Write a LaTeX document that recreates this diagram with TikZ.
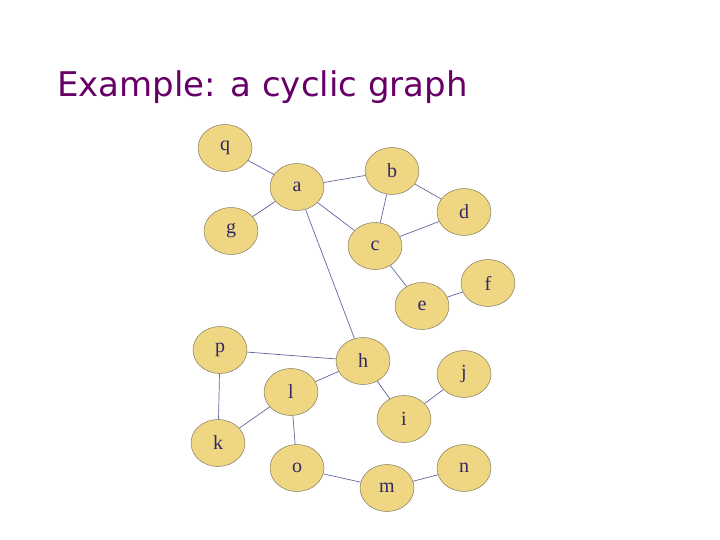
\documentclass[tikz,border=0pt]{standalone}
\usepackage{fontspec}
\setmainfont{Liberation Serif}
\newfontfamily\titlefont{DejaVu Sans}
\definecolor{nodefill}{RGB}{238,214,130}
\definecolor{nodeline}{RGB}{110,100,80}
\definecolor{edgecol}{RGB}{100,100,160}
\definecolor{labcol}{RGB}{50,40,100}
\definecolor{titlecol}{RGB}{102,0,102}
\begin{document}
\begin{tikzpicture}[x=1pt,y=-1pt,
  vert/.style={ellipse,draw=nodeline,fill=nodefill,minimum width=54pt,minimum height=47pt,inner sep=0pt,text=labcol,font=\fontsize{20}{22}\selectfont},
  edge/.style={draw=edgecol,line width=0.7pt}]
\usetikzlibrary{shapes.geometric}
\useasboundingbox (0,0) rectangle (720,540);
\node[anchor=base west,text=titlecol,font=\titlefont\fontsize{34}{40}\selectfont,inner sep=0pt] (title) at (57,97) {Example: a cyclic graph};
\foreach \n/\x/\y in {q/225/148,a/297/187,b/392/171,d/464/212,g/231/231,c/375/246,f/488/283,e/422/306,p/220/350,h/363/361,j/464/374,l/291/392,i/404/419,k/218/443,o/297/468,n/464/468,m/387/488}
  \node[vert] (\n) at (\x,\y) {\n};
\foreach \u/\v in {q/a,g/a,a/b,a/c,a/h,b/c,b/d,c/d,c/e,e/f,p/h,p/k,l/h,k/l,l/o,h/i,i/j,o/m,m/n}
  \draw[edge] (\u) -- (\v);
\end{tikzpicture}
\end{document}
